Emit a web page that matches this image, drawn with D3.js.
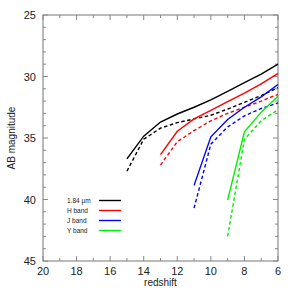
<!DOCTYPE html>
<html>
<head>
<meta charset="utf-8">
<script src="https://cdn.jsdelivr.net/npm/d3@7"></script>
<style>
html, body { margin: 0; padding: 0; background: #fff; overflow: hidden; }
svg { display: block; }
svg text { font-family: "Liberation Sans", Arial, sans-serif; }
</style>
</head>
<body>
<script>
// redshift samples per band
var zBlack = [15, 14, 13, 12, 11, 10, 9, 8, 7, 6];
var zRed = [13, 12, 11, 10, 9, 8, 7, 6];
var zBlue = [11, 10, 9, 8, 7, 6];
var zGreen = [9, 8, 7, 6];

// AB magnitudes, solid and dashed
var blackSolid = [36.7, 34.85, 33.7, 33.05, 32.5, 31.9, 31.2, 30.5, 29.8, 29.0];
var blackDashed = [37.7, 35.1, 34.2, 33.75, 33.45, 33.15, 32.65, 32.1, 31.55, 30.9];
var redSolid = [36.35, 34.45, 33.45, 32.75, 32.05, 31.35, 30.6, 29.75];
var redDashed = [37.2, 35.3, 34.4, 33.6, 33.0, 32.5, 32.0, 31.45];
var blueSolid = [38.85, 34.9, 33.5, 32.5, 31.65, 30.65];
var blueDashed = [40.7, 35.5, 34.1, 33.2, 32.6, 32.15];
var greenSolid = [40.05, 34.5, 32.9, 31.6];
var greenDashed = [43.0, 35.1, 33.6, 32.7];

var legendLabels = ['1.84 \u00b5m', 'H band', 'J band', 'Y band'];
var colors = ['#000000', '#ff0000', '#0000ff', '#00ee00'];

var xTicks = [20, 18, 16, 14, 12, 10, 8, 6];
var yTicks = [25, 30, 35, 40, 45];

var width = 291;
var height = 291;

var margin = {
    top: 15,
    left: 43,
    right: 13,
    bottom: 30
};

var innerWidth = width - margin.left - margin.right;
var innerHeight = height - margin.top - margin.bottom;

var series = [
    { z: zBlack, solid: blackSolid, dashed: blackDashed },
    { z: zRed, solid: redSolid, dashed: redDashed },
    { z: zBlue, solid: blueSolid, dashed: blueDashed },
    { z: zGreen, solid: greenSolid, dashed: greenDashed }
];

var svg = d3.select('body').append('svg')
    .attr('width', width)
    .attr('height', height);

var g = svg.append('g')
    .attr('transform', 'translate(' + margin.left + ',' + margin.top + ')');

var x = d3.scaleLinear()
    .domain([20, 6])
    .range([0, innerWidth]);

var y = d3.scaleLinear()
    .domain([25, 45])
    .range([0, innerHeight]);

// frame
g.append('rect')
    .attr('width', innerWidth)
    .attr('height', innerHeight)
    .attr('fill', 'none')
    .attr('stroke', '#777')
    .attr('stroke-width', 1);

// ticks on all four sides, pointing inward
var xMinor = d3.range(6, 21);
var yMinor = d3.range(25, 46);

g.selectAll('.xt-bottom')
    .data(xMinor)
    .join('line')
    .attr('x1', function (d) { return x(d); })
    .attr('x2', function (d) { return x(d); })
    .attr('y1', innerHeight)
    .attr('y2', function (d) { return innerHeight - (d % 2 === 0 ? 5 : 3); })
    .attr('stroke', '#888');

g.selectAll('.xt-top')
    .data(xMinor)
    .join('line')
    .attr('x1', function (d) { return x(d); })
    .attr('x2', function (d) { return x(d); })
    .attr('y1', 0)
    .attr('y2', function (d) { return d % 2 === 0 ? 5 : 3; })
    .attr('stroke', '#888');

g.selectAll('.yt-left')
    .data(yMinor)
    .join('line')
    .attr('y1', function (d) { return y(d); })
    .attr('y2', function (d) { return y(d); })
    .attr('x1', 0)
    .attr('x2', function (d) { return d % 5 === 0 ? 5 : 3; })
    .attr('stroke', '#888');

g.selectAll('.yt-right')
    .data(yMinor)
    .join('line')
    .attr('y1', function (d) { return y(d); })
    .attr('y2', function (d) { return y(d); })
    .attr('x1', innerWidth)
    .attr('x2', function (d) { return innerWidth - (d % 5 === 0 ? 5 : 3); })
    .attr('stroke', '#888');

// tick labels
g.selectAll('.xl')
    .data(xTicks)
    .join('text')
    .attr('x', function (d) { return x(d); })
    .attr('y', innerHeight + 14)
    .attr('text-anchor', 'middle')
    .attr('font-size', 11)
    .attr('fill', '#222')
    .text(function (d) { return d; });

g.selectAll('.yl')
    .data(yTicks)
    .join('text')
    .attr('x', -7)
    .attr('y', function (d) { return y(d) + 4; })
    .attr('text-anchor', 'end')
    .attr('font-size', 11)
    .attr('fill', '#222')
    .text(function (d) { return d; });

// axis titles
svg.append('text')
    .attr('x', margin.left + innerWidth / 2)
    .attr('y', 286)
    .attr('text-anchor', 'middle')
    .attr('font-size', 10)
    .attr('fill', '#222')
    .text('redshift');

svg.append('text')
    .attr('transform', 'translate(15,' + (margin.top + innerHeight / 2) + ') rotate(-90)')
    .attr('text-anchor', 'middle')
    .attr('font-size', 10)
    .attr('fill', '#222')
    .text('AB magnitude');

// curves
var line = d3.line()
    .x(function (d) { return x(d[0]); })
    .y(function (d) { return y(d[1]); });

series.forEach(function (s, i) {
    g.append('path')
        .datum(d3.zip(s.z, s.solid))
        .attr('d', line)
        .attr('fill', 'none')
        .attr('stroke', colors[i])
        .attr('stroke-width', 1.4);
    g.append('path')
        .datum(d3.zip(s.z, s.dashed))
        .attr('d', line)
        .attr('fill', 'none')
        .attr('stroke', colors[i])
        .attr('stroke-width', 1.4)
        .attr('stroke-dasharray', '3.5,2.5');
});

// legend
var legend = svg.append('g');
legend.selectAll('text')
    .data(legendLabels)
    .join('text')
    .attr('x', 67)
    .attr('y', function (d, i) { return 203 + i * 10; })
    .attr('font-size', 6.5)
    .attr('fill', '#222')
    .text(function (d) { return d; });

legend.selectAll('line')
    .data(legendLabels)
    .join('line')
    .attr('x1', 99)
    .attr('x2', 121)
    .attr('y1', function (d, i) { return 200.5 + i * 10; })
    .attr('y2', function (d, i) { return 200.5 + i * 10; })
    .attr('stroke', function (d, i) { return colors[i]; })
    .attr('stroke-width', 1.4);
</script>
</body>
</html>
